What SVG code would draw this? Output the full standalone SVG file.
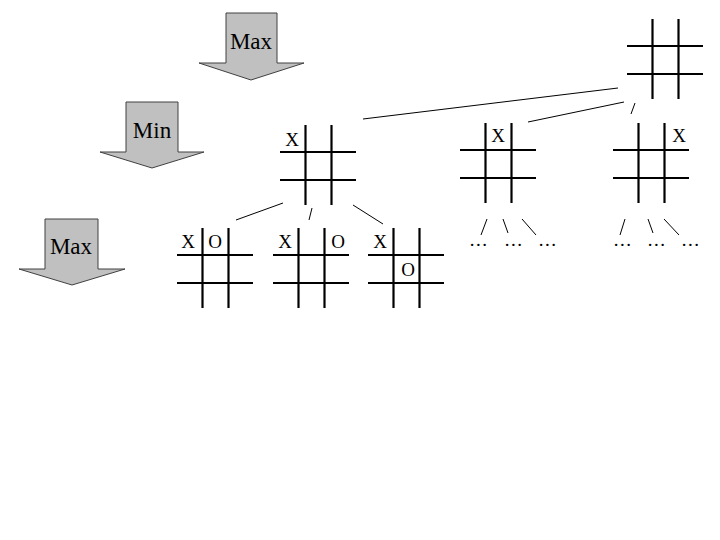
<svg xmlns="http://www.w3.org/2000/svg" xmlns:xlink="http://www.w3.org/1999/xlink" width="720" height="540" viewBox="0 0 720 540">
<style>
.g line{stroke:#000;stroke-width:2.2}
.c line{stroke:#000;stroke-width:1}
.arr{fill:#c0c0c0;stroke:#404040;stroke-width:1}
text{font-family:"Liberation Serif",serif;fill:#000}
.lbl{font-size:23px;text-anchor:middle}
.m{font-size:19px;text-anchor:middle}
.d{font-size:19px;text-anchor:middle;letter-spacing:1.5px}
</style>
<defs>
<g id="board" class="g">
<line x1="25.5" y1="0" x2="25.5" y2="80"/>
<line x1="51.5" y1="0" x2="51.5" y2="80"/>
<line x1="0" y1="27" x2="76" y2="27"/>
<line x1="0" y1="55" x2="76" y2="55"/>
</g>
</defs>
<rect width="720" height="540" fill="#fff"/>
<g id="arrow-max1"><path class="arr" d="M226,13H277V63H304L251,80L199,63H226Z"/><text class="lbl" x="251" y="49">Max</text></g>
<g id="arrow-min"><path class="arr" d="M126,102H178V152H204L152,168L100,152H126Z"/><text class="lbl" x="152" y="138">Min</text></g>
<g id="arrow-max2"><path class="arr" d="M45,219H98V269H125L72,285L19,269H45Z"/><text class="lbl" x="71" y="254">Max</text></g>
<g id="root"><use xlink:href="#board" x="627" y="19"/></g>
<g id="min1"><use xlink:href="#board" x="280" y="125"/><text class="m" x="292" y="146">X</text></g>
<g id="min2"><use xlink:href="#board" x="460" y="123"/><text class="m" x="498" y="142">X</text></g>
<g id="min3"><use xlink:href="#board" x="613" y="123"/><text class="m" x="679" y="142">X</text></g>
<g id="leaf1"><use xlink:href="#board" x="177" y="228"/><text class="m" x="188" y="248">X</text><text class="m" x="215" y="248">O</text></g>
<g id="leaf2"><use xlink:href="#board" x="273" y="228"/><text class="m" x="285" y="248">X</text><text class="m" x="338" y="248">O</text></g>
<g id="leaf3"><use xlink:href="#board" x="368" y="228"/><text class="m" x="380" y="248">X</text><text class="m" x="408" y="276">O</text></g>
<g id="dots"><text class="d" x="479" y="246">...</text><text class="d" x="514" y="246">...</text><text class="d" x="548" y="246">...</text>
<text class="d" x="623" y="246">...</text><text class="d" x="657" y="246">...</text><text class="d" x="691" y="246">...</text></g>
<g id="connectors" class="c">
<line x1="363" y1="119" x2="618" y2="88"/>
<line x1="528" y1="122" x2="624" y2="102"/>
<line x1="631" y1="114" x2="635" y2="103"/>
<line x1="236" y1="220" x2="283" y2="203"/>
<line x1="309" y1="220" x2="312" y2="208"/>
<line x1="353" y1="205" x2="383" y2="224"/>
<line x1="487" y1="219" x2="481" y2="235"/>
<line x1="503" y1="219" x2="508" y2="233"/>
<line x1="522" y1="219" x2="536" y2="235"/>
<line x1="625" y1="219" x2="620" y2="235"/>
<line x1="648" y1="219" x2="653" y2="233"/>
<line x1="664" y1="219" x2="679" y2="235"/>
</g>
</svg>
